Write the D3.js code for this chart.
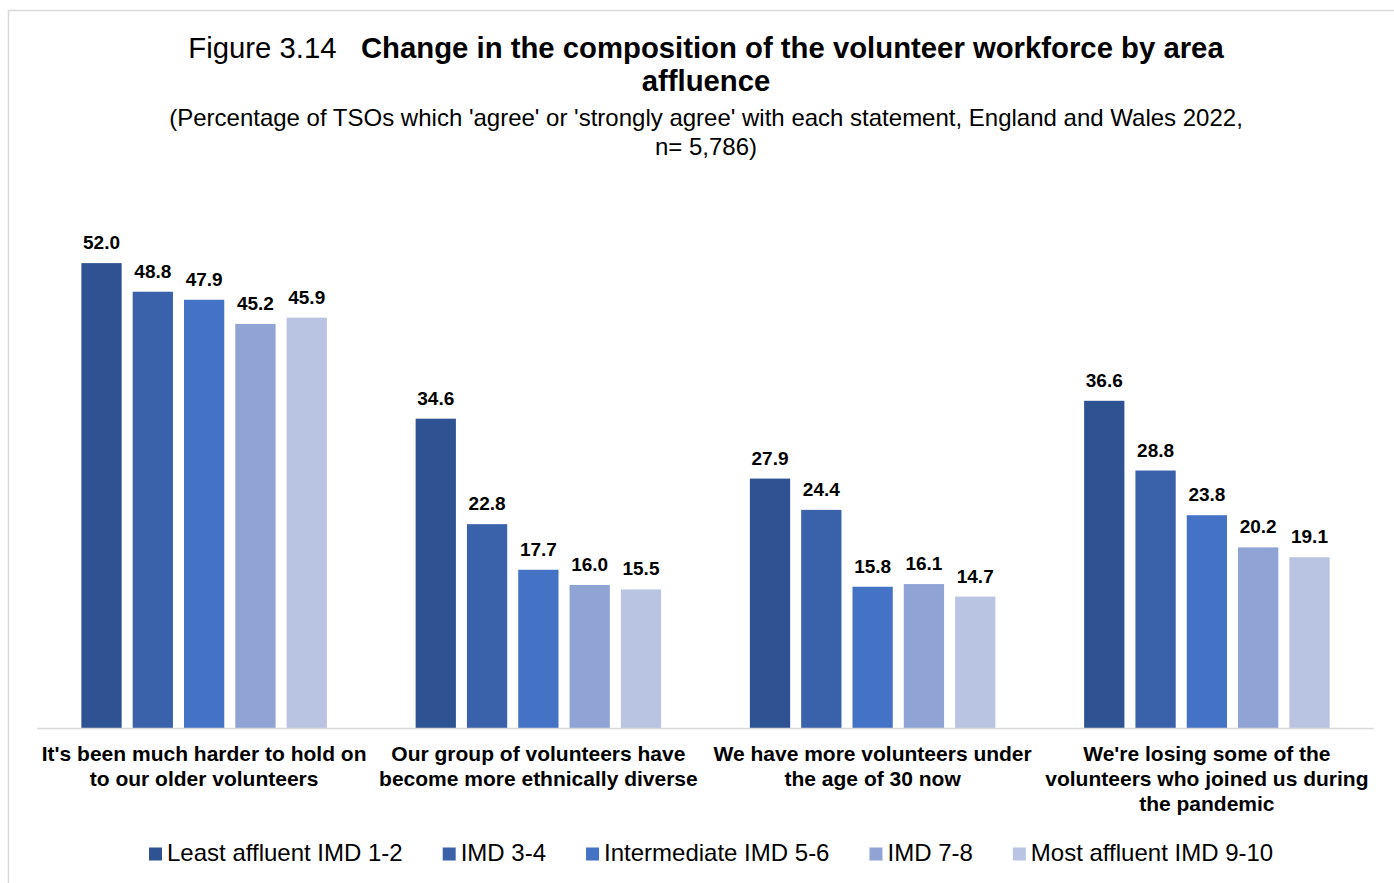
<!DOCTYPE html>
<html>
<head>
<meta charset="utf-8">
<script src="https://cdn.jsdelivr.net/npm/d3@7"></script>
<style>
  html, body { margin: 0; padding: 0; background: #fff; }
  svg { display: block; font-family: "Liberation Sans", Arial, sans-serif; }
</style>
</head>
<body>
<svg id="chart" width="1394" height="883"></svg>
<script>
// Statements (x-axis categories)
const categories = [
  "It's been much harder to hold on to our older volunteers",
  "Our group of volunteers have become more ethnically diverse",
  "We have more volunteers under the age of 30 now",
  "We're losing some of the volunteers who joined us during the pandemic"
];

// Area affluence groups (series)
const seriesNames = [
  "Least affluent IMD 1-2",
  "IMD 3-4",
  "Intermediate IMD 5-6",
  "IMD 7-8",
  "Most affluent IMD 9-10"
];

// Percentage agreeing, one array per series, in category order
const leastAffluent = [52.0, 34.6, 27.9, 36.6];
const imd34 = [48.8, 22.8, 24.4, 28.8];
const intermediate = [47.9, 17.7, 15.8, 23.8];
const imd78 = [45.2, 16.0, 16.1, 20.2];
const mostAffluent = [45.9, 15.5, 14.7, 19.1];

const seriesValues = [leastAffluent, imd34, intermediate, imd78, mostAffluent];
const seriesColors = ["#2F5392", "#3A62AA", "#4472C4", "#8FA4D4", "#B9C3E2"];

const svg = d3.select("#chart");

// Outer frame
svg.append("rect")
  .attr("x", 8.5).attr("y", 10.5)
  .attr("width", 1400).attr("height", 900)
  .attr("fill", "none").attr("stroke", "#d9d9d9").attr("stroke-width", 1.5);

// Title block
const cx = 706;
const t1 = svg.append("text").attr("x", cx).attr("y", 58)
  .attr("text-anchor", "middle").attr("font-size", 29.3).attr("fill", "#000");
t1.append("tspan").text("Figure 3.14\u00A0\u00A0\u00A0");
t1.append("tspan").attr("font-weight", "bold")
  .text("Change in the composition of the volunteer workforce by area");
svg.append("text").attr("x", cx).attr("y", 91)
  .attr("text-anchor", "middle").attr("font-size", 29.3).attr("font-weight", "bold")
  .text("affluence");
svg.append("text").attr("x", cx).attr("y", 126)
  .attr("text-anchor", "middle").attr("font-size", 24)
  .text("(Percentage of TSOs which 'agree' or 'strongly agree' with each statement, England and Wales 2022,");
svg.append("text").attr("x", cx).attr("y", 155)
  .attr("text-anchor", "middle").attr("font-size", 24)
  .text("n= 5,786)");

// Scales
const plotLeft = 37, plotRight = 1374, baseY = 728;
const x0 = d3.scaleBand().domain(categories).range([plotLeft, plotRight]).padding(0);
const x1 = d3.scaleBand().domain(seriesNames).range([0, x0.bandwidth()])
  .paddingInner(0.215).paddingOuter(0.865);
const y = d3.scaleLinear().domain([0, 60]).range([baseY, baseY - 60 * 8.94]);

// Bars and value labels
const groups = svg.append("g").selectAll("g")
  .data(categories)
  .join("g")
  .attr("transform", d => `translate(${x0(d)},0)`);

groups.selectAll("rect")
  .data((c, ci) => seriesNames.map((s, si) => ({ s, si, v: seriesValues[si][ci] })))
  .join("rect")
  .attr("x", d => x1(d.s))
  .attr("y", d => y(d.v))
  .attr("width", x1.bandwidth())
  .attr("height", d => y(0) - y(d.v))
  .attr("fill", d => seriesColors[d.si]);

groups.selectAll("text.val")
  .data((c, ci) => seriesNames.map((s, si) => ({ s, si, v: seriesValues[si][ci] })))
  .join("text")
  .attr("class", "val")
  .attr("x", d => x1(d.s) + x1.bandwidth() / 2)
  .attr("y", d => y(d.v) - 14)
  .attr("text-anchor", "middle")
  .attr("font-size", 19).attr("font-weight", "bold").attr("fill", "#000")
  .text(d => d.v.toFixed(1));

// Category axis
const xAxis = svg.append("g").attr("transform", `translate(0,${baseY})`)
  .call(d3.axisBottom(x0).tickSize(0).tickPadding(0));
xAxis.select(".domain").attr("stroke", "#d9d9d9").attr("stroke-width", 1.5)
  .attr("d", `M${plotLeft},0.5H${plotRight}`);

function wrap(textSel, width) {
  textSel.each(function () {
    const text = d3.select(this);
    const words = text.text().split(/\s+/);
    text.text(null);
    let line = [];
    let tspan = text.append("tspan").attr("x", 0).attr("dy", 0);
    for (const w of words) {
      line.push(w);
      tspan.text(line.join(" "));
      if (tspan.node().getComputedTextLength() > width && line.length > 1) {
        line.pop();
        tspan.text(line.join(" "));
        line = [w];
        tspan = text.append("tspan").attr("x", 0).attr("dy", 25).text(w);
      }
    }
  });
}

xAxis.selectAll(".tick text")
  .attr("y", 33)
  .attr("font-size", 21).attr("font-weight", "bold").attr("fill", "#000")
  .attr("font-family", "Liberation Sans, Arial, sans-serif")
  .call(wrap, 332);

// Legend
const legend = svg.append("g").attr("transform", "translate(149,854)");
let lx = 0;
seriesNames.forEach((name, i) => {
  const item = legend.append("g").attr("transform", `translate(${lx},0)`);
  item.append("rect").attr("x", 0).attr("y", -6.5).attr("width", 13).attr("height", 13)
    .attr("fill", seriesColors[i]);
  const t = item.append("text").attr("x", 18).attr("y", 7)
    .attr("font-size", 24).attr("fill", "#000").text(name);
  lx += 18 + t.node().getComputedTextLength() + 40;
});
</script>
</body>
</html>
